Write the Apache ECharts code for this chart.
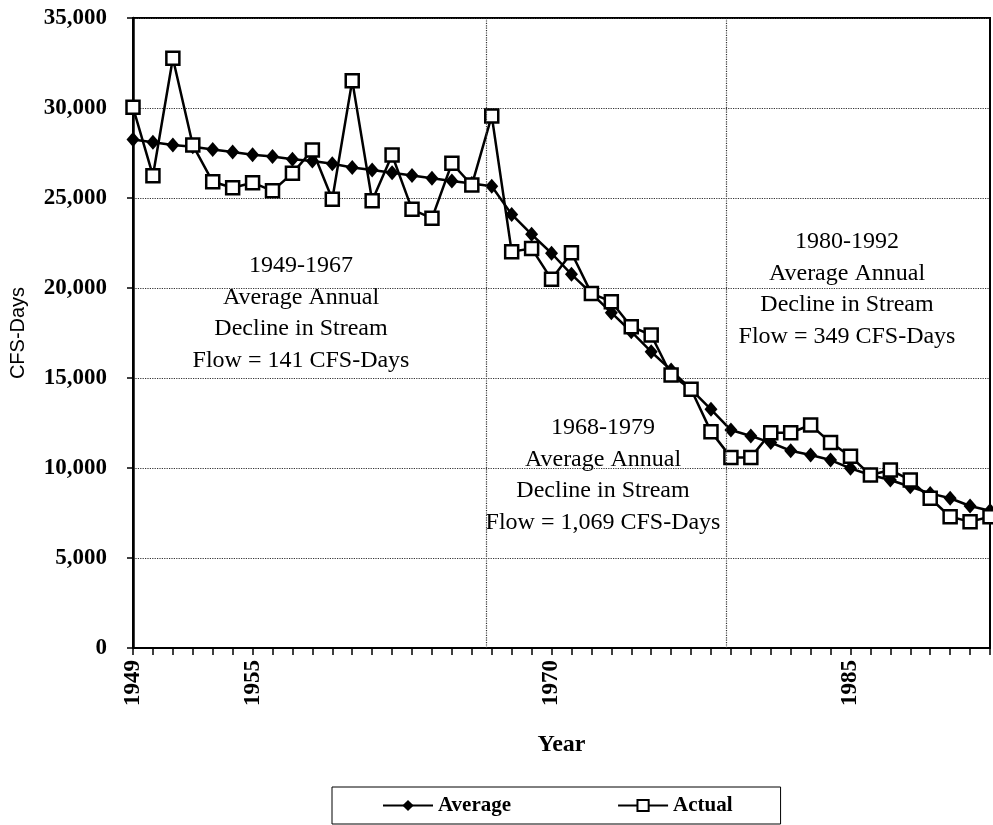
<!DOCTYPE html>
<html>
<head>
<meta charset="utf-8">
<script src="https://cdn.jsdelivr.net/npm/echarts@6/dist/echarts.min.js"></script>
<style>
html, body { margin: 0; padding: 0; background: #fff; }
#main { width: 993px; height: 825px; }
</style>
</head>
<body>
<div id="main"></div>
<script>
var years = [1949, 1950, 1951, 1952, 1953, 1954, 1955, 1956, 1957, 1958, 1959,
	1960, 1961, 1962, 1963, 1964, 1965, 1966, 1967, 1968, 1969, 1970, 1971, 1972,
	1973, 1974, 1975, 1976, 1977, 1978, 1979, 1980, 1981, 1982, 1983, 1984, 1985,
	1986, 1987, 1988, 1989, 1990, 1991, 1992];

var averageFlow = [28250, 28100, 27950, 27850, 27700, 27550, 27400, 27300, 27150,
	27050, 26900, 26700, 26550, 26400, 26250, 26100, 25950, 25800, 25650,
	24090, 22980, 21930, 20760, 19700, 18630, 17570, 16460, 15440, 14370, 13260, 12110,
	11780, 11410, 10960, 10720, 10440, 9980, 9610, 9330, 8960, 8590, 8320, 7890, 7630];

var actualFlow = [30040, 26240, 32760, 27940, 25900, 25570, 25850, 25400, 26370,
	27670, 24930, 31520, 24850, 27390, 24370, 23870, 26930, 25720, 29560,
	22020, 22200, 20480, 21960, 19700, 19240, 17850, 17390, 15170, 14370, 12020, 10590,
	10590, 11960, 11960, 12390, 11410, 10650, 9610, 9890, 9330, 8320, 7290, 7020, 7290];

var shownYears = [1949, 1955, 1970, 1985];
var periodLines = [1966.7, 1978.75];

var notes = [
	{ x: 301, y: 266, lines: ['1949-1967', 'Average Annual', 'Decline in Stream', 'Flow = 141 CFS-Days'] },
	{ x: 603, y: 428, lines: ['1968-1979', 'Average Annual', 'Decline in Stream', 'Flow = 1,069 CFS-Days'] },
	{ x: 847, y: 242, lines: ['1980-1992', 'Average Annual', 'Decline in Stream', 'Flow = 349 CFS-Days'] }
];

var serif = '"Liberation Serif", "Times New Roman", serif';

function pairs(vals) {
	var res = [];
	for (var i = 0; i < years.length; i++) {
		res.push([years[i], vals[i]]);
	}
	return res;
}

// one text element per line so every line is centred on the note's x
var graphics = [];
for (var n = 0; n < notes.length; n++) {
	for (var j = 0; j < notes[n].lines.length; j++) {
		graphics.push({
			type: 'text',
			x: notes[n].x,
			y: notes[n].y + j * 31.5,
			silent: true,
			style: {
				text: notes[n].lines[j],
				font: '24px ' + serif,
				fill: '#000',
				align: 'center',
				verticalAlign: 'middle'
			}
		});
	}
}

var chart = echarts.init(document.getElementById('main'));

var option = {
	backgroundColor: '#fff',
	animation: false,
	grid: {
		left: 127, right: 3, top: 18, bottom: 177,
		show: true,
		borderColor: '#000',
		borderWidth: 2
	},
	legend: {
		left: 332,
		top: 787,
		padding: [8, 48, 8, 50],
		itemGap: 106,
		itemWidth: 50,
		itemHeight: 14,
		borderColor: '#000',
		borderWidth: 1,
		textStyle: { fontFamily: serif, fontSize: 21, fontWeight: 'bold', color: '#000' },
		data: ['Average', 'Actual']
	},
	xAxis: {
		type: 'value',
		min: 1949,
		max: 1992,
		interval: 1,
		name: 'Year',
		nameLocation: 'middle',
		nameGap: 85,
		nameTextStyle: { fontFamily: serif, fontSize: 24, fontWeight: 'bold', color: '#000' },
		axisLine: { lineStyle: { color: '#000', width: 2 } },
		axisTick: { length: 7, lineStyle: { color: '#000', width: 1.5 } },
		axisLabel: {
			rotate: 90,
			margin: 12,
			fontFamily: serif,
			fontSize: 23,
			fontWeight: 'bold',
			color: '#000',
			formatter: function (v) {
				return shownYears.indexOf(v) >= 0 ? String(v) : '';
			}
		},
		splitLine: { show: false }
	},
	yAxis: {
		type: 'value',
		min: 0,
		max: 35000,
		interval: 5000,
		name: 'CFS-Days',
		nameLocation: 'middle',
		nameGap: 105,
		nameTextStyle: { fontFamily: '"Liberation Sans Narrow", "Liberation Sans", sans-serif', fontSize: 20, color: '#000' },
		axisLine: { show: true, lineStyle: { color: '#000', width: 2.5 } },
		axisTick: { show: true, length: 6, lineStyle: { color: '#000', width: 1.5 } },
		axisLabel: {
			margin: 26,
			fontFamily: serif,
			fontSize: 23,
			fontWeight: 'bold',
			color: '#000',
			formatter: function (v) {
				return v.toLocaleString('en-US');
			}
		},
		splitLine: { lineStyle: { color: '#333', type: 'dotted', width: 1.2 } }
	},
	series: [{
		name: 'Average',
		type: 'line',
		data: pairs(averageFlow),
		symbol: 'diamond',
		symbolSize: [13, 15],
		itemStyle: { color: '#000' },
		lineStyle: { color: '#000', width: 2.5 },
		markLine: {
			silent: true,
			symbol: 'none',
			label: { show: false },
			lineStyle: { color: '#333', type: 'dotted', width: 1.2 },
			data: periodLines.map(function (x) { return { xAxis: x }; })
		},
		z: 2
	}, {
		name: 'Actual',
		type: 'line',
		data: pairs(actualFlow),
		symbol: 'rect',
		symbolSize: 13,
		itemStyle: { color: '#fff', borderColor: '#000', borderWidth: 2.5 },
		lineStyle: { color: '#000', width: 2.5 },
		z: 3
	}],
	graphic: graphics
};

chart.setOption(option);
</script>
</body>
</html>
